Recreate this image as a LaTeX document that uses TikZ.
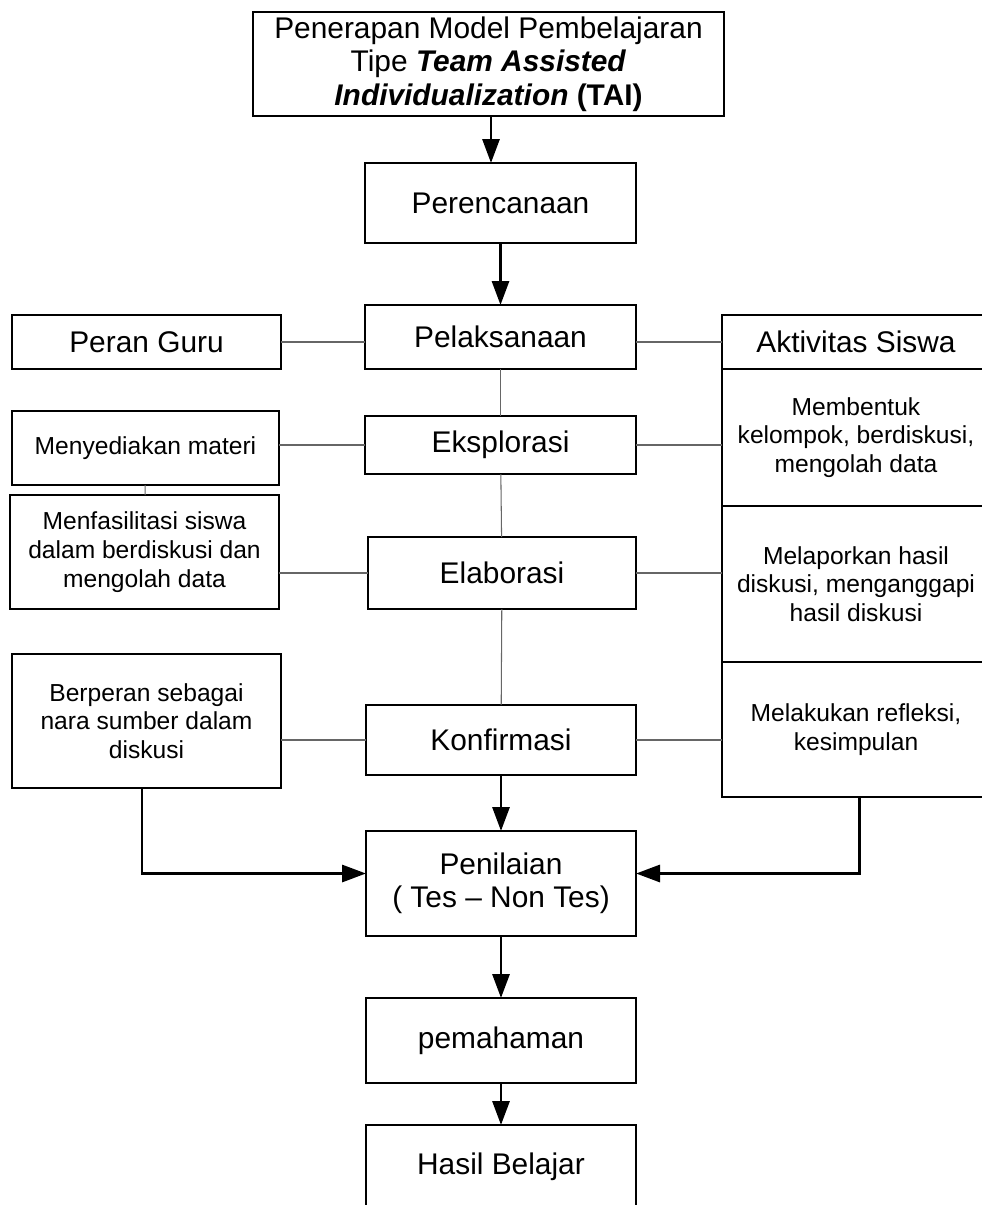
\documentclass[tikz,border=0pt]{standalone}
\usepackage{fontspec}
\setmainfont{Liberation Sans}
\usetikzlibrary{arrows.meta}
\newcommand{\bigtxt}{\fontsize{17}{19}\selectfont}
\newcommand{\smltxt}{\fontsize{14}{16.3}\selectfont}
\begin{document}
\begin{tikzpicture}[inner sep=0, outer sep=0,
    box/.style={rectangle, draw=black, line width=1pt, align=center, font=\bigtxt},
    sbox/.style={rectangle, draw=black, line width=1pt, align=center, font=\smltxt},
    link/.style={draw=gray!80!black, line width=0.6pt},
    arr/.style={draw=black, line width=1.7pt, -{Triangle[length=0.48cm, width=0.34cm]}}]
  \useasboundingbox (0, 0) rectangle (19.64, -24.1);

  % middle column
  \node[box, minimum width=9.42cm, minimum height=2.08cm] (tai) at (9.77, -1.28)
    {Penerapan Model Pembelajaran\\ Tipe \textbf{\textit{Team Assisted}}\\ \textbf{\textit{Individualization}} \textbf{(TAI)}};
  \node[box, minimum width=5.42cm, minimum height=1.6cm] (rencana) at (10.01, -4.06) {Perencanaan};
  \node[box, minimum width=5.42cm, minimum height=1.28cm] (laksana) at (10.01, -6.74) {Pelaksanaan};
  \node[box, minimum width=5.42cm, minimum height=1.16cm] (eksplor) at (10.01, -8.9) {Eksplorasi};
  \node[box, minimum width=5.36cm, minimum height=1.44cm] (elabor) at (10.04, -11.46) {Elaborasi};
  \node[box, minimum width=5.4cm, minimum height=1.4cm] (konfirm) at (10.02, -14.8) {Konfirmasi};
  \node[box, minimum width=5.4cm, minimum height=2.1cm] (nilai) at (10.02, -17.67) {Penilaian\\ ( Tes -- Non Tes)};
  \node[box, minimum width=5.4cm, minimum height=1.7cm] (paham) at (10.02, -20.81) {pemahaman};
  \node[box, minimum width=5.4cm, minimum height=1.68cm] (hasil) at (10.02, -23.34) {Hasil Belajar};

  % peran guru
  \node[box, minimum width=5.38cm, minimum height=1.08cm] (guru) at (2.93, -6.84) {Peran Guru};
  \node[sbox, minimum width=5.34cm, minimum height=1.48cm] (materi) at (2.91, -8.96) {Menyediakan materi};
  \node[sbox, minimum width=5.38cm, minimum height=2.28cm] (fasil) at (2.89, -11.04)
    {Menfasilitasi siswa\\ dalam berdiskusi dan\\ mengolah data};
  \node[sbox, minimum width=5.38cm, minimum height=2.68cm] (narsum) at (2.93, -14.42)
    {Berperan sebagai\\ nara sumber dalam\\ diskusi};

  % aktivitas siswa
  \node[box, minimum width=5.36cm, minimum height=1.08cm] (siswa) at (17.12, -6.84) {Aktivitas Siswa};
  \node[sbox, minimum width=5.36cm, minimum height=2.74cm] (bentuk) at (17.12, -8.75)
    {Membentuk\\ kelompok, berdiskusi,\\ mengolah data};
  \node[sbox, minimum width=5.36cm, minimum height=3.12cm] (lapor) at (17.12, -11.68)
    {Melaporkan hasil\\ diskusi, menganggapi\\ hasil diskusi};
  \node[sbox, minimum width=5.36cm, minimum height=2.7cm] (refleksi) at (17.12, -14.59)
    {Melakukan refleksi,\\ kesimpulan};

  % thin links
  \draw[link] (laksana) -- (eksplor);
  \draw[link] (eksplor) -- (elabor);
  \draw[link] (elabor) -- (konfirm);
  \draw[link] (materi) -- (fasil);
  \draw[link] (guru.east) -- (guru.east -| laksana.west);
  \draw[link] (siswa.west -| laksana.east) -- (siswa.west);
  \draw[link] (eksplor.west) -- (eksplor.west -| materi.east);
  \draw[link] (eksplor.east) -- (eksplor.east -| bentuk.west);
  \draw[link] (elabor.west) -- (elabor.west -| fasil.east);
  \draw[link] (elabor.east) -- (elabor.east -| lapor.west);
  \draw[link] (konfirm.west) -- (konfirm.west -| narsum.east);
  \draw[link] (konfirm.east) -- (konfirm.east -| refleksi.west);

  % thick arrows
  \draw[arr] ([xshift=0.05cm]tai.south) -- ([xshift=0.05cm]tai.south |- rencana.north);
  \draw[arr] (rencana) -- (laksana);
  \draw[arr] (konfirm) -- (nilai);
  \draw[arr] (nilai) -- (paham);
  \draw[arr] (paham) -- (hasil);
  \draw[arr] ([xshift=-0.09cm]narsum.south) |- ([yshift=0.2cm]nilai.west);
  \draw[arr] ([xshift=0.06cm]refleksi.south) |- ([yshift=0.2cm]nilai.east);
\end{tikzpicture}
\end{document}
